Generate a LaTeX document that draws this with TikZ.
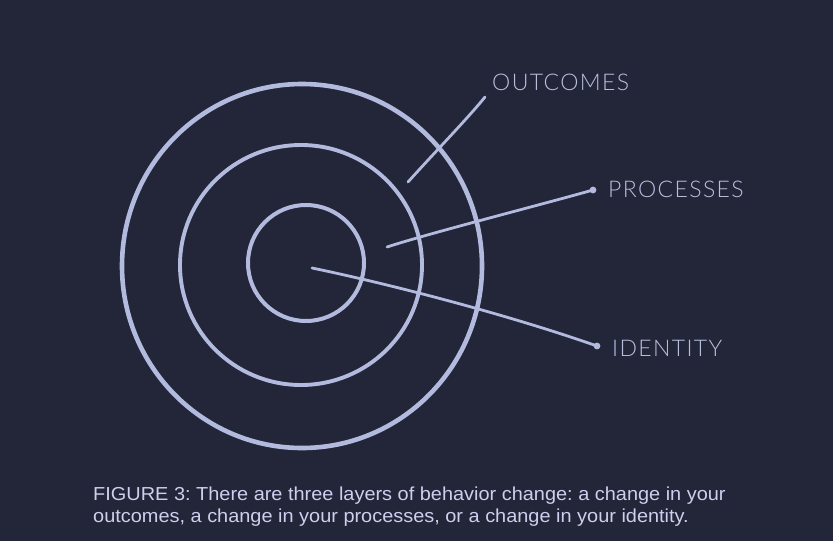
\documentclass[tikz,border=0pt]{standalone}
\usepackage{fontspec}
\newfontfamily\labfont{Lato}[UprightFont=* Light,LetterSpace=6]
\newfontfamily\capfont{Liberation Sans}[FakeStretch=1.06]
\definecolor{bg}{RGB}{35,37,56}
\definecolor{ink}{RGB}{178,186,222}
\definecolor{labc}{RGB}{184,190,222}
\definecolor{capc}{RGB}{204,208,238}
\begin{document}
\begin{tikzpicture}[x=1pt,y=-1pt,
  ring/.style={draw=ink,line width=#1},
  conn/.style={draw=ink,line width=2.8pt,line cap=round},
  enddot/.style={fill=ink},
  lab/.style={anchor=base west,inner sep=0pt,text=labc,font=\labfont\fontsize{23}{23}\selectfont},
  captext/.style={anchor=base west,inner sep=0pt,text=capc,align=left,font=\capfont\fontsize{18.8}{22}\selectfont\frenchspacing}]
\fill[bg] (0,0) rectangle (833,541);
\useasboundingbox (0,0) rectangle (833,541);
% rings
\draw[ring=4.6pt] (302,266) ellipse [x radius=180,y radius=182];
\draw[ring=3.9pt] (301,265) ellipse [x radius=121,y radius=120];
\draw[ring=4pt] (306,263) ellipse [x radius=58,y radius=58];
% labels
\node[lab] (outcomes) at (492,90) {OUTCOMES};
\node[lab] (processes) at (608,197) {PROCESSES};
\node[lab] (identity) at (612,356) {IDENTITY};
% connector points
\coordinate (oS) at (408,182);
\coordinate (oE) at (485,97);
\coordinate (pS) at (387,247);
\coordinate (pE) at (593,190);
\coordinate (iS) at (312,268);
\coordinate (iE) at (597,346);
\draw[conn] (oS) .. controls (435,152) and (468,118) .. (oE);
\draw[conn] (pS) .. controls (430,233) and (540,205) .. (pE);
\draw[conn] (iS) .. controls (380,282) and (500,312) .. (iE);
\fill[enddot] (pE) circle (3.4);
\fill[enddot] (iE) circle (3.4);
% caption
\node[captext] (caption) at (93,522.7) {FIGURE 3: There are three layers of behavior change: a change in your\\outcomes, a change in your processes, or a change in your identity.};
\end{tikzpicture}
\end{document}
